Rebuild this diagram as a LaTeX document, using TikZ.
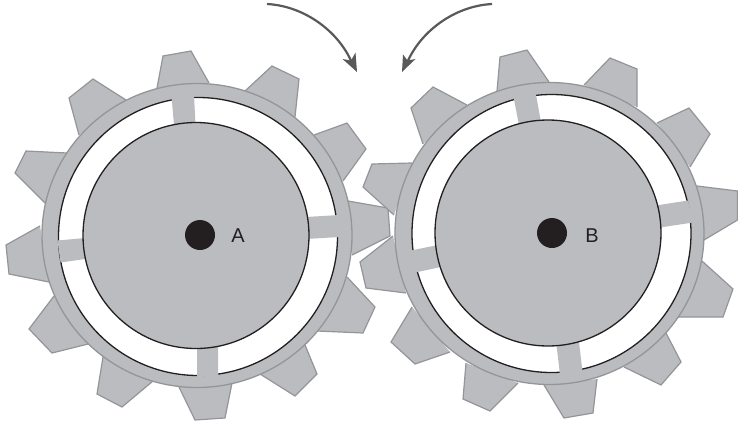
\documentclass[tikz,border=0pt]{standalone}
\usepackage{fontspec}
\setmainfont{Liberation Sans}
\definecolor{gearfill}{HTML}{BBBCC0}
\definecolor{gearline}{HTML}{949599}
\definecolor{inkblack}{HTML}{231F20}
\definecolor{arrowgray}{HTML}{58595B}
\tikzset{
  tooth/.style={fill=gearfill,draw=gearline,line width=1.2pt,line join=miter},
  rim/.style={fill=gearfill,draw=gearline,line width=1.3pt},
  slot/.style={fill=white,draw=inkblack,line width=1.3pt},
  spoke/.style={fill=gearfill,draw=none},
  hub/.style={fill=gearfill,draw=inkblack,line width=1.3pt},
  axle/.style={circle,fill=inkblack,draw=none,inner sep=0pt,minimum size=30pt},
  gearlabel/.style={text=inkblack,font=\fontsize{20}{20}\selectfont,inner sep=0pt},
  turn/.style={draw=arrowgray,line width=2.2pt},
  turnhead/.style={fill=arrowgray,draw=none}
}
\begin{document}
\begin{tikzpicture}[x=1pt,y=-1pt]
\useasboundingbox (0,0) rectangle (738,426);
% Gear A teeth
\foreach \p in {
 {(157,88)--(163,56)--(191,51)--(209,83)},
 {(126,100)--(93,79)--(69,98)--(79,135)},
 {(67,153)--(26,151)--(15,173)--(45,203)},
 {(40,226)--(6,245)--(9,274)--(49,282)},
 {(54,296)--(29,329)--(52,353)--(88,344)},
 {(103,357)--(97,394)--(122,407)--(153,381)},
 {(179,387)--(195,420)--(225,418)--(232,383)},
 {(260,374)--(295,396)--(317,374)--(305,345)},
 {(317,331)--(363,333)--(375,307)--(347,277)},
 {(348,201)--(388,208)--(390,236)--(352,255)},
 {(314,135)--(347,123)--(366,149)--(343,181)},
 {(245,91)--(272,66)--(299,79)--(295,117)}}
 {\draw[tooth] \p;}
% Gear A body
\draw[rim] (197,235.5) ellipse [x radius=155,y radius=152];
\draw[slot] (198,236.5) ellipse [x radius=139.5,y radius=139];
\fill[spoke] (171.5,96)--(174,125)--(195.5,125)--(194,95)--cycle;
\fill[spoke] (306,217)--(339.5,215)--(339.5,237)--(306,239)--cycle;
\fill[spoke] (197,346)--(197,377)--(218,376)--(218,346)--cycle;
\fill[spoke] (57.5,240.5)--(85,238)--(85,259)--(60.5,262.5)--cycle;
\draw[hub] (196,235.5) circle [radius=113];
% Gear B teeth
\foreach \p in {
 {(497,91)--(500,57)--(527,50)--(549,82)},
 {(467,105)--(433,87)--(411,108)--(423,144)},
 {(412,163)--(372,164)--(363,187)--(394,215)},
 {(393,236)--(360,262)--(366,288)--(406,293)},
 {(412,307)--(391,342)--(415,364)--(450,352)},
 {(466,363)--(463,399)--(490,411)--(518,383)},
 {(544,385)--(564,418)--(593,413)--(597,379)},
 {(624,367)--(661,385)--(681,362)--(666,333)},
 {(677,317)--(723,317)--(733,289)--(702,261)},
 {(697,186)--(737.5,191)--(737.5,220)--(704,240)},
 {(657,123)--(689,108)--(710,134)--(690,167)},
 {(584,85)--(610,58)--(637,69)--(637,107)}}
 {\draw[tooth] \p;}
% Gear B body
\draw[rim] (549.5,233.5) ellipse [x radius=154.5,y radius=151];
\draw[slot] (551.5,233.5) ellipse [x radius=139.5,y radius=139];
\fill[spoke] (513.5,97)--(519,125)--(541.5,125)--(535.5,92)--cycle;
\fill[spoke] (656,205.5)--(688,200.5)--(693,222.5)--(660,227.5)--cycle;
\fill[spoke] (556.5,345)--(560,375)--(582.5,372)--(579,342)--cycle;
\fill[spoke] (411,250.5)--(438,245)--(441,267)--(415,272.5)--cycle;
\draw[hub] (548,233) circle [radius=113];
% Axles and labels
\node[axle] (axleA) at (200,235) {};
\node[axle] (axleB) at (552,233) {};
\node[gearlabel] (labelA) at (238,236) {A};
\node[gearlabel] (labelB) at (592,236) {B};
% Turning arrows
\coordinate (leftstart) at (267,4);
\coordinate (leftend) at (352,63);
\coordinate (rightstart) at (492,4);
\coordinate (rightend) at (407,63);
\draw[turn] (leftstart) .. controls (305,6) and (339,32) .. (leftend);
\draw[turn] (rightstart) .. controls (454,6) and (420,32) .. (rightend);
\fill[turnhead] (357,72)--(342.5,59)--(351,60.5)--(355.5,52.5)--cycle;
\fill[turnhead] (402,72)--(415.5,59)--(407.5,60.5)--(403,54.5)--cycle;
\end{tikzpicture}
\end{document}
